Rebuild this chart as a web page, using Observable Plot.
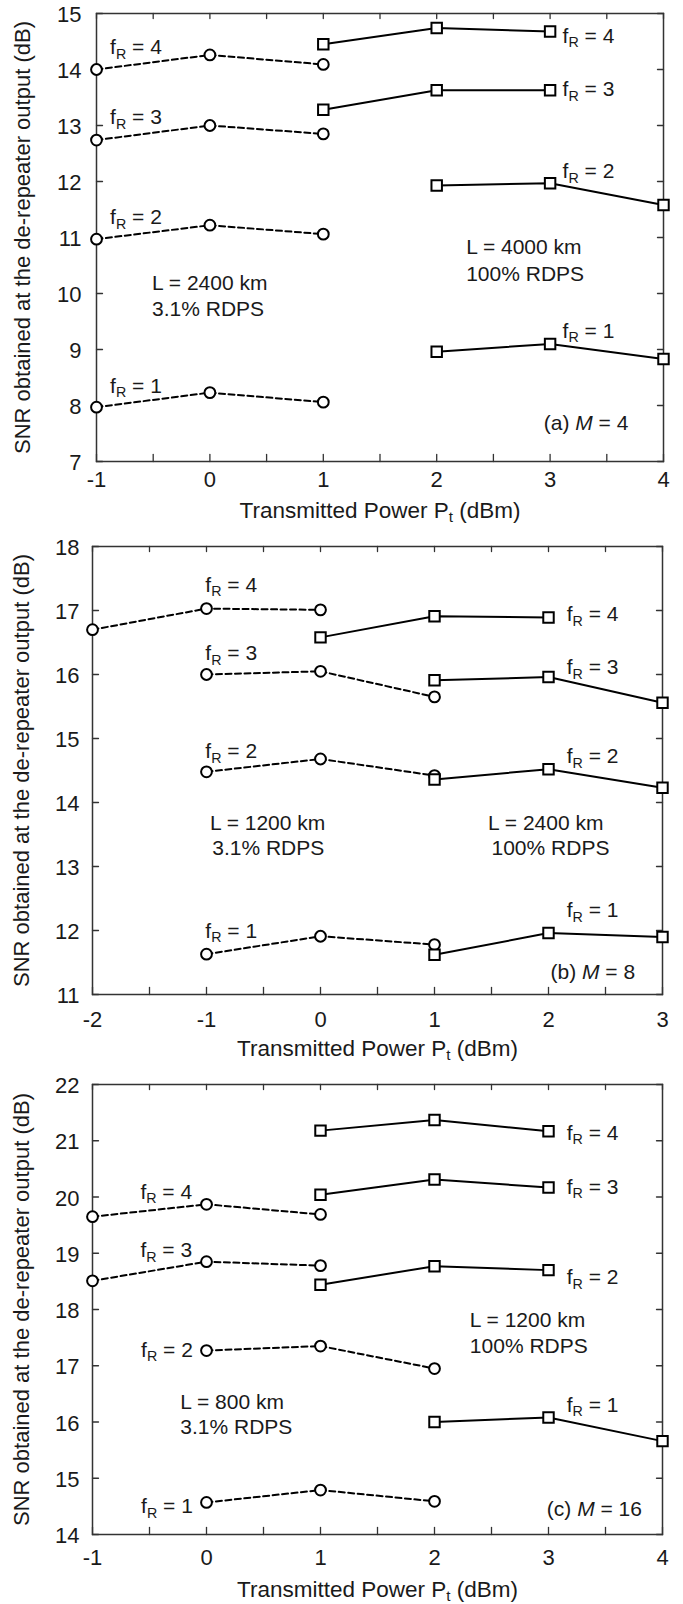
<!DOCTYPE html>
<html>
<head>
<meta charset="utf-8">
<script src="https://cdn.jsdelivr.net/npm/d3@7"></script>
<script src="https://cdn.jsdelivr.net/npm/@observablehq/plot@0.6"></script>
<style>
  body { margin: 0; background: #fff; }
  #wrap { position: relative; width: 683px; height: 1604px; overflow: hidden; }
  #wrap > div { position: absolute; left: 0; }
</style>
</head>
<body>
<div id="wrap">
  <div id="pa" style="top:0px"></div>
  <div id="pb" style="top:530px"></div>
  <div id="pc" style="top:1070px"></div>
</div>
<script>
const FONT = "'Liberation Sans', Arial, Helvetica, sans-serif";

// ---------------- Panel (a): M = 4 ----------------
// L = 2400 km, 3.1% RDPS (dashed, circles)
const a_x31 = [-1, 0, 1];
const a31_fR1 = [7.97, 8.23, 8.06];
const a31_fR2 = [10.97, 11.22, 11.06];
const a31_fR3 = [12.74, 13.00, 12.85];
const a31_fR4 = [14.00, 14.26, 14.09];
// L = 4000 km, 100% RDPS (solid, squares)
const a_x100_fR12 = [2, 3, 4];
const a_x100_fR34 = [1, 2, 3];
const a100_fR1 = [8.96, 9.10, 8.83];
const a100_fR2 = [11.93, 11.97, 11.58];
const a100_fR3 = [13.28, 13.63, 13.63];
const a100_fR4 = [14.45, 14.74, 14.68];
const a_xTicks = [-1, 0, 1, 2, 3, 4];
const a_yTicks = [7, 8, 9, 10, 11, 12, 13, 14, 15];

// ---------------- Panel (b): M = 8 ----------------
// L = 1200 km, 3.1% RDPS
const b_x31 = [-1, 0, 1];
const b_x31_fR4 = [-2, -1, 0];
const b31_fR1 = [11.63, 11.91, 11.78];
const b31_fR2 = [14.48, 14.68, 14.42];
const b31_fR3 = [16.00, 16.05, 15.65];
const b31_fR4 = [16.70, 17.03, 17.01];
// L = 2400 km, 100% RDPS
const b_x100 = [1, 2, 3];
const b_x100_fR4 = [0, 1, 2];
const b100_fR1 = [11.62, 11.96, 11.90];
const b100_fR2 = [14.36, 14.52, 14.23];
const b100_fR3 = [15.91, 15.96, 15.56];
const b100_fR4 = [16.58, 16.91, 16.89];
const b_xTicks = [-2, -1, 0, 1, 2, 3];
const b_yTicks = [11, 12, 13, 14, 15, 16, 17, 18];

// ---------------- Panel (c): M = 16 ----------------
// L = 800 km, 3.1% RDPS
const c_x31_fR34 = [-1, 0, 1];
const c_x31_fR12 = [0, 1, 2];
const c31_fR1 = [14.57, 14.79, 14.59];
const c31_fR2 = [17.27, 17.35, 16.95];
const c31_fR3 = [18.51, 18.85, 18.78];
const c31_fR4 = [19.65, 19.87, 19.69];
// L = 1200 km, 100% RDPS
const c_x100_fR234 = [1, 2, 3];
const c_x100_fR1 = [2, 3, 4];
const c100_fR1 = [16.00, 16.08, 15.66];
const c100_fR2 = [18.44, 18.77, 18.70];
const c100_fR3 = [20.04, 20.31, 20.17];
const c100_fR4 = [21.18, 21.37, 21.17];
const c_xTicks = [-1, 0, 1, 2, 3, 4];
const c_yTicks = [14, 15, 16, 17, 18, 19, 20, 21, 22];

// Annotations (anchored in data coordinates)
const a_notes = [
  {t: "f_R = 4", x: -0.88, y: 14.39, a: "start"},
  {t: "f_R = 3", x: -0.88, y: 13.14, a: "start"},
  {t: "f_R = 2", x: -0.88, y: 11.36, a: "start"},
  {t: "f_R = 1", x: -0.88, y: 8.35, a: "start"},
  {t: "f_R = 4", x: 3.11, y: 14.60, a: "start"},
  {t: "f_R = 3", x: 3.11, y: 13.64, a: "start"},
  {t: "f_R = 2", x: 3.11, y: 12.18, a: "start"},
  {t: "f_R = 1", x: 3.11, y: 9.33, a: "start"},
  {t: "L = 2400 km", x: -0.51, y: 10.18, a: "start"},
  {t: "3.1% RDPS", x: -0.51, y: 9.71, a: "start"},
  {t: "L = 4000 km", x: 2.26, y: 10.82, a: "start"},
  {t: "100% RDPS", x: 2.26, y: 10.34, a: "start"},
  {t: "(a) *M* = 4", x: 3.69, y: 7.69, a: "end"}
];
const b_notes = [
  {t: "f_R = 4", x: -1.01, y: 17.40, a: "start"},
  {t: "f_R = 3", x: -1.01, y: 16.33, a: "start"},
  {t: "f_R = 2", x: -1.01, y: 14.80, a: "start"},
  {t: "f_R = 1", x: -1.01, y: 11.99, a: "start"},
  {t: "f_R = 4", x: 2.16, y: 16.94, a: "start"},
  {t: "f_R = 3", x: 2.16, y: 16.11, a: "start"},
  {t: "f_R = 2", x: 2.16, y: 14.72, a: "start"},
  {t: "f_R = 1", x: 2.16, y: 12.31, a: "start"},
  {t: "L = 1200 km", x: -0.97, y: 13.68, a: "start"},
  {t: "3.1% RDPS", x: -0.95, y: 13.28, a: "start"},
  {t: "L = 2400 km", x: 1.47, y: 13.68, a: "start"},
  {t: "100% RDPS", x: 1.50, y: 13.28, a: "start"},
  {t: "(b) *M* = 8", x: 2.76, y: 11.35, a: "end"}
];
const c_notes = [
  {t: "f_R = 4", x: -0.58, y: 20.09, a: "start"},
  {t: "f_R = 3", x: -0.58, y: 19.05, a: "start"},
  {t: "f_R = 2", x: -0.12, y: 17.28, a: "end"},
  {t: "f_R = 1", x: -0.12, y: 14.50, a: "end"},
  {t: "f_R = 4", x: 3.16, y: 21.14, a: "start"},
  {t: "f_R = 3", x: 3.16, y: 20.18, a: "start"},
  {t: "f_R = 2", x: 3.16, y: 18.57, a: "start"},
  {t: "f_R = 1", x: 3.16, y: 16.30, a: "start"},
  {t: "L = 1200 km", x: 2.31, y: 17.80, a: "start"},
  {t: "100% RDPS", x: 2.31, y: 17.34, a: "start"},
  {t: "L = 800 km", x: -0.23, y: 16.35, a: "start"},
  {t: "3.1% RDPS", x: -0.23, y: 15.91, a: "start"},
  {t: "(c) *M* = 16", x: 3.82, y: 14.44, a: "end"}
];

const X_TITLE = "Transmitted Power P_t (dBm)";
const Y_TITLE = "SNR obtained at the de-repeater output (dB)";

function series(xs, ys, fr) { return xs.map((x, i) => ({x, y: ys[i], fr})); }

function richify(svg) {
  const ns = "http://www.w3.org/2000/svg";
  svg.querySelectorAll("text").forEach(t => {
    if (t.querySelector("tspan")) return;
    const s = t.textContent;
    if (!/[_*]/.test(s)) return;
    const parts = s.split(/(_[A-Za-z]|\*[^*]+\*)/).filter(p => p);
    t.textContent = "";
    let shifted = false;
    parts.forEach(p => {
      const ts = document.createElementNS(ns, "tspan");
      if (p[0] === "_") {
        ts.textContent = p.slice(1);
        ts.setAttribute("font-size", "0.68em");
        ts.setAttribute("dy", "4.5");
        shifted = true;
      } else if (p[0] === "*") {
        ts.textContent = p.slice(1, -1);
        ts.setAttribute("font-style", "italic");
        if (shifted) { ts.setAttribute("dy", "-4.5"); shifted = false; }
      } else {
        ts.textContent = p;
        if (shifted) { ts.setAttribute("dy", "-4.5"); shifted = false; }
      }
      t.appendChild(ts);
    });
  });
}

const tickShape = {draw(ctx, l) { ctx.moveTo(0, 0); ctx.lineTo(0, -l); }};

function panel(cfg) {
  const x0 = cfg.xTicks[0], x1 = cfg.xTicks[cfg.xTicks.length - 1];
  const y0 = cfg.yTicks[0], y1 = cfg.yTicks[cfg.yTicks.length - 1];
  const minor = d3.range(x0, x1 + 0.001, 0.5);
  const tk = {stroke: "#333", strokeWidth: 1.3, anchor: "start", shape: tickShape};
  const ink = "#1a1a1a";
  const svg = Plot.plot({
    width: 683,
    height: cfg.height,
    marginTop: cfg.mt, marginBottom: cfg.mb, marginLeft: cfg.ml, marginRight: cfg.mr,
    x: {domain: [x0, x1], axis: null},
    y: {domain: [y0, y1], axis: null},
    style: {fontFamily: FONT, fontSize: "21px", color: ink, background: "white", overflow: "visible"},
    marks: [
      Plot.vector(minor, {x: d => d, frameAnchor: "bottom", rotate: 0, length: 7, ...tk}),
      Plot.vector(minor, {x: d => d, frameAnchor: "top", rotate: 180, length: 5, ...tk}),
      Plot.vector(cfg.yTicks, {y: d => d, frameAnchor: "left", rotate: 90, length: 6, ...tk}),
      Plot.vector(cfg.yTicks, {y: d => d, frameAnchor: "right", rotate: -90, length: 6, ...tk}),
      Plot.frame({stroke: "#333", strokeWidth: 1.5}),
      Plot.line(cfg.dashed, {x: "x", y: "y", z: "fr", stroke: "black", strokeWidth: 2, strokeDasharray: "6,3.5"}),
      Plot.line(cfg.solid, {x: "x", y: "y", z: "fr", stroke: "black", strokeWidth: 2}),
      Plot.dot(cfg.dashed, {x: "x", y: "y", r: 5.4, fill: "white", stroke: "black", strokeWidth: 2}),
      Plot.dot(cfg.solid, {x: "x", y: "y", symbol: "square", r: 5.9, fill: "white", stroke: "black", strokeWidth: 2}),
      // tick labels
      Plot.text(cfg.xTicks, {x: d => d, frameAnchor: "bottom", dy: cfg.xpad, lineAnchor: "top", textAnchor: "middle", text: d => String(d), fill: ink, fontSize: 22}),
      Plot.text(cfg.yTicks, {y: d => d, frameAnchor: "left", dx: -cfg.ypad, dy: 1.5, textAnchor: "end", lineAnchor: "middle", text: d => String(d), fill: ink, fontSize: 22}),
      // axis titles
      Plot.text([X_TITLE], {frameAnchor: "bottom", dy: cfg.xtitle, textAnchor: "middle", lineAnchor: "middle", text: d => d, fill: ink, fontSize: 22.5}),
      Plot.text([Y_TITLE], {frameAnchor: "left", dx: cfg.ytitle, rotate: -90, textAnchor: "middle", lineAnchor: "middle", text: d => d, fill: ink, fontSize: 22}),
      // annotations
      Plot.text(cfg.notes.filter(n => n.a === "start"), {x: "x", y: "y", text: "t", textAnchor: "start", lineAnchor: "middle", fill: ink}),
      Plot.text(cfg.notes.filter(n => n.a === "end"), {x: "x", y: "y", text: "t", textAnchor: "end", lineAnchor: "middle", fill: ink})
    ]
  });
  richify(svg);
  return svg;
}

const aDashed = [
  ...series(a_x31, a31_fR1, 1), ...series(a_x31, a31_fR2, 2),
  ...series(a_x31, a31_fR3, 3), ...series(a_x31, a31_fR4, 4)
];
const aSolid = [
  ...series(a_x100_fR12, a100_fR1, 1), ...series(a_x100_fR12, a100_fR2, 2),
  ...series(a_x100_fR34, a100_fR3, 3), ...series(a_x100_fR34, a100_fR4, 4)
];
const bDashed = [
  ...series(b_x31, b31_fR1, 1), ...series(b_x31, b31_fR2, 2),
  ...series(b_x31, b31_fR3, 3), ...series(b_x31_fR4, b31_fR4, 4)
];
const bSolid = [
  ...series(b_x100, b100_fR1, 1), ...series(b_x100, b100_fR2, 2),
  ...series(b_x100, b100_fR3, 3), ...series(b_x100_fR4, b100_fR4, 4)
];
const cDashed = [
  ...series(c_x31_fR12, c31_fR1, 1), ...series(c_x31_fR12, c31_fR2, 2),
  ...series(c_x31_fR34, c31_fR3, 3), ...series(c_x31_fR34, c31_fR4, 4)
];
const cSolid = [
  ...series(c_x100_fR1, c100_fR1, 1), ...series(c_x100_fR234, c100_fR2, 2),
  ...series(c_x100_fR234, c100_fR3, 3), ...series(c_x100_fR234, c100_fR4, 4)
];

document.getElementById("pa").appendChild(panel({
  height: 530, mt: 13, mb: 69, ml: 96, mr: 20,
  xTicks: a_xTicks, yTicks: a_yTicks, dashed: aDashed, solid: aSolid, notes: a_notes,
  xpad: 10, ypad: 15, xtitle: 49, ytitle: -74
}));
document.getElementById("pb").appendChild(panel({
  height: 540, mt: 16, mb: 76, ml: 92, mr: 21,
  xTicks: b_xTicks, yTicks: b_yTicks, dashed: bDashed, solid: bSolid, notes: b_notes,
  xpad: 17, ypad: 13, xtitle: 54, ytitle: -71
}));
document.getElementById("pc").appendChild(panel({
  height: 534, mt: 14, mb: 70, ml: 92, mr: 21,
  xTicks: c_xTicks, yTicks: c_yTicks, dashed: cDashed, solid: cSolid, notes: c_notes,
  xpad: 15, ypad: 13, xtitle: 55, ytitle: -71
}));
</script>
</body>
</html>
